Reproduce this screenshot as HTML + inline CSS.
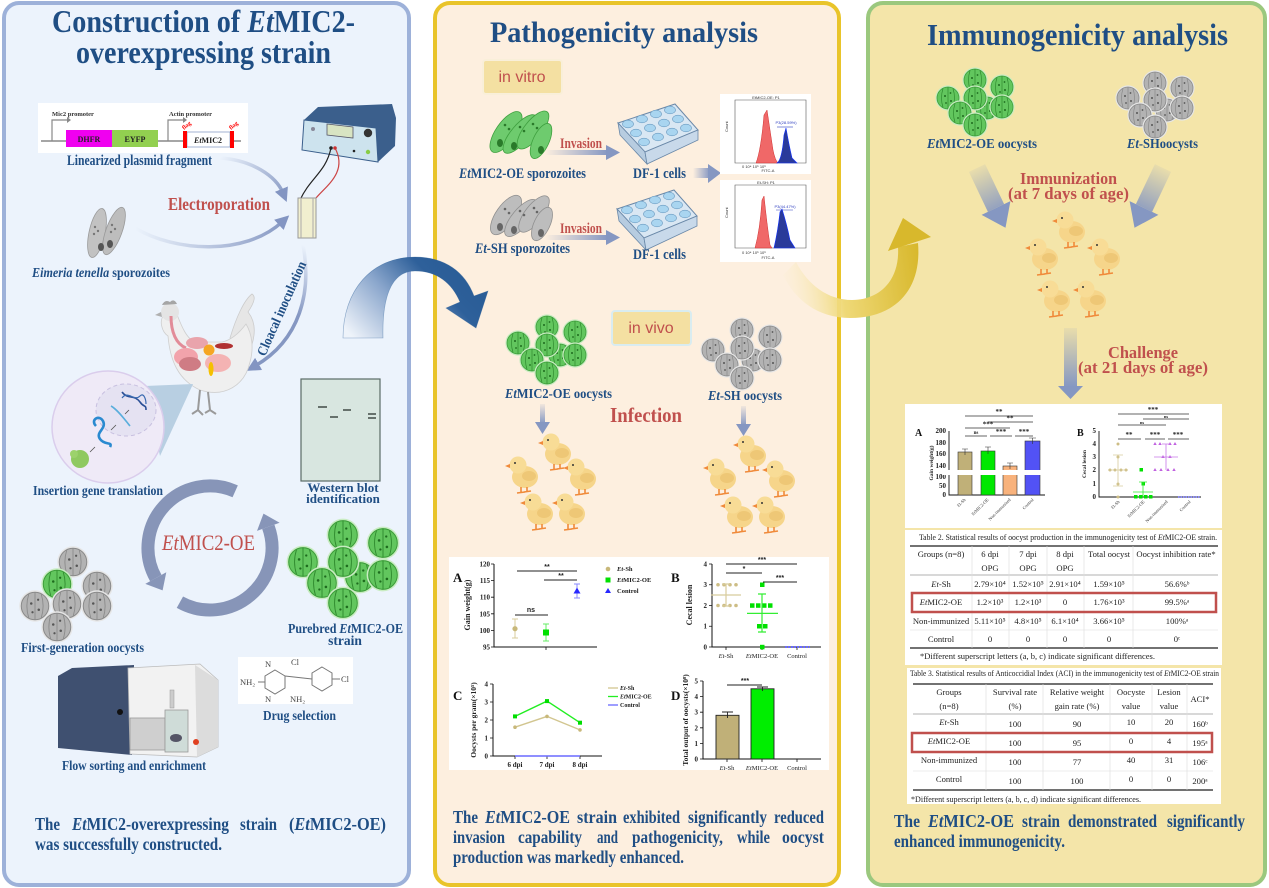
<!DOCTYPE html>
<html><head><meta charset="utf-8">
<style>
html,body{margin:0;padding:0;background:#fff;}
svg{display:block;}
text{font-family:"Liberation Serif",serif;}
.b{font-weight:bold;fill:#1f4e84;}
.r{font-weight:bold;fill:#c0504d;}
.s{font-family:"Liberation Sans",sans-serif;}
.t{font-size:8.6px;fill:#222;}
.tk{font-family:"Liberation Sans",sans-serif;font-weight:bold;font-size:7px;fill:#222;}
.sg{font-family:"Liberation Sans",sans-serif;font-weight:bold;font-size:7px;fill:#222;}
</style></head><body>
<svg width="1269" height="888" viewBox="0 0 1269 888" xmlns="http://www.w3.org/2000/svg">
<defs>
<linearGradient id="gBlue" x1="360" y1="345" x2="450" y2="262" gradientUnits="userSpaceOnUse">
<stop offset="0" stop-color="#eef3fa"/><stop offset="0.45" stop-color="#8aa6cc"/><stop offset="0.8" stop-color="#2e609a"/><stop offset="1" stop-color="#2a5d97"/>
</linearGradient>
<linearGradient id="gYel" x1="785" y1="280" x2="920" y2="260" gradientUnits="userSpaceOnUse">
<stop offset="0" stop-color="#fbeecf" stop-opacity="0.2"/><stop offset="0.4" stop-color="#efd978"/><stop offset="1" stop-color="#d8b82c"/>
</linearGradient>
<linearGradient id="gArrH" x1="0" y1="0" x2="1" y2="0">
<stop offset="0" stop-color="#8597c2" stop-opacity="0"/><stop offset="1" stop-color="#8597c2"/>
</linearGradient>
<linearGradient id="gArrV" x1="0" y1="0" x2="0" y2="1">
<stop offset="0" stop-color="#8597c2" stop-opacity="0.1"/><stop offset="1" stop-color="#8597c2"/>
</linearGradient>
<linearGradient id="gL1" x1="220" y1="158" x2="287" y2="200" gradientUnits="userSpaceOnUse">
<stop offset="0" stop-color="#8597c2" stop-opacity="0"/><stop offset="1" stop-color="#8597c2"/>
</linearGradient>
<linearGradient id="gL2" x1="135" y1="228" x2="287" y2="218" gradientUnits="userSpaceOnUse">
<stop offset="0" stop-color="#8597c2" stop-opacity="0"/><stop offset="1" stop-color="#8597c2"/>
</linearGradient>
<linearGradient id="gL3" x1="303" y1="245" x2="250" y2="368" gradientUnits="userSpaceOnUse">
<stop offset="0" stop-color="#8597c2" stop-opacity="0"/><stop offset="0.5" stop-color="#8597c2"/><stop offset="1" stop-color="#8597c2"/>
</linearGradient>
<marker id="mh" viewBox="0 0 10 10" refX="3" refY="5" markerWidth="4" markerHeight="4" orient="auto"><path d="M0,0 L10,5 L0,10 Z" fill="#8395c2"/></marker>
<g id="og">
<circle r="12.6" fill="#c9ecc2"/>
<circle r="11" fill="#62c65e" stroke="#3d9e3a" stroke-width="0.8"/>
<path d="M-5,-9.5 Q-8,0 -5,9.5 M0,-11 V11 M5,-9.5 Q8,0 5,9.5" stroke="#2f8a2e" stroke-width="0.7" fill="none"/>
<circle cx="-3" cy="-2" r="1" fill="#1e6b1e"/><circle cx="3" cy="3" r="1" fill="#1e6b1e"/><circle cx="-2" cy="5" r="0.9" fill="#1e6b1e"/><circle cx="2.5" cy="-5" r="0.9" fill="#1e6b1e"/>
</g>
<g id="oy">
<circle r="12.6" fill="#e6e6e6"/>
<circle r="11" fill="#b3b3b3" stroke="#8a8a8a" stroke-width="0.8"/>
<path d="M-5,-9.5 Q-8,0 -5,9.5 M0,-11 V11 M5,-9.5 Q8,0 5,9.5" stroke="#8a8a8a" stroke-width="0.7" fill="none"/>
<circle cx="-3" cy="-2" r="1" fill="#555"/><circle cx="3" cy="3" r="1" fill="#555"/><circle cx="-2" cy="5" r="0.9" fill="#555"/><circle cx="2.5" cy="-5" r="0.9" fill="#555"/>
</g>
<g id="ck">
<ellipse cx="3" cy="4" rx="13" ry="11" fill="#f6d58a"/>
<circle cx="-4" cy="-8" r="8.5" fill="#f8dc96"/>
<path d="M-12,-9 L-17,-7 L-12,-5 Z" fill="#f08a3a"/>
<circle cx="-7" cy="-10" r="1" fill="#333"/>
<ellipse cx="7" cy="3" rx="7" ry="5" fill="#eec776"/>
<path d="M-1,14 L-1,19 M-5,20 L3,19 M5,14 L5,18 M2,19 L9,18" stroke="#f08a3a" stroke-width="1.6" fill="none"/>
</g>
<g id="wells">
<path d="M0,0 L57,-19 L80,7 L27,29 Z" fill="#d9e7f3" stroke="#6a88a8" stroke-width="1"/>
<path d="M0,0 L27,29 L29,41 L2,12 Z" fill="#b7cce0" stroke="#6a88a8" stroke-width="0.8"/>
<path d="M27,29 L80,7 L80,17 L29,41 Z" fill="#c8d9ea" stroke="#6a88a8" stroke-width="0.8"/>
</g>
</defs>

<!-- Panels -->
<rect x="4" y="3" width="405" height="882" rx="15" fill="#ecf3fc" stroke="#9db1d9" stroke-width="4"/>
<rect x="435" y="3" width="404" height="882" rx="15" fill="#fdefdf" stroke="#e9c42a" stroke-width="4"/>
<rect x="868" y="3" width="397" height="882" rx="15" fill="#f4e5a9" stroke="#9bc87e" stroke-width="4"/>

<!-- Titles -->
<text x="52" y="32" font-size="32" class="b" textLength="303" lengthAdjust="spacingAndGlyphs">Construction of <tspan font-style="italic">Et</tspan>MIC2-</text>
<text x="76" y="63" font-size="32" class="b" textLength="255" lengthAdjust="spacingAndGlyphs">overexpressing strain</text>
<text x="490" y="42" font-size="30" class="b" textLength="268" lengthAdjust="spacingAndGlyphs">Pathogenicity analysis</text>
<text x="927" y="45" font-size="31" class="b" textLength="301" lengthAdjust="spacingAndGlyphs">Immunogenicity analysis</text>

<!-- ============ LEFT PANEL ============ -->
<!-- plasmid -->
<rect x="38" y="103" width="210" height="50" fill="#fff"/>
<path d="M41,141 H66 M158,141 H183 M234,141 H241" stroke="#888" stroke-width="1.6"/>
<path d="M52,141 V120 H68" stroke="#888" stroke-width="1.2" fill="none"/><path d="M67,117 L71,120 L67,123 Z" fill="#888"/>
<path d="M168,141 V120 H184" stroke="#888" stroke-width="1.2" fill="none"/><path d="M183,117 L187,120 L183,123 Z" fill="#888"/>
<text x="52" y="116" font-size="6.5" font-weight="bold" fill="#333">Mic2  promoter</text>
<text x="169" y="116" font-size="6.5" font-weight="bold" fill="#333">Actin promoter</text>
<rect x="66" y="130" width="46" height="17" fill="#f000f0"/>
<rect x="112" y="130" width="46" height="17" fill="#92d050"/>
<text x="89" y="142" font-size="8" font-weight="bold" text-anchor="middle" fill="#222">DHFR</text>
<text x="135" y="142" font-size="8" font-weight="bold" text-anchor="middle" fill="#222">EYFP</text>
<rect x="187" y="132" width="43" height="15" fill="#fff" stroke="#8da0c8" stroke-width="0.8"/>
<rect x="183" y="131" width="4" height="17" fill="#f00"/><rect x="230" y="131" width="4" height="17" fill="#f00"/>
<text x="208" y="143" font-size="8" font-weight="bold" text-anchor="middle" fill="#222"><tspan font-style="italic">Et</tspan>MIC2</text>
<text transform="translate(184,130) rotate(-40)" font-size="6" fill="#f00" font-weight="bold">flag</text>
<text transform="translate(231,130) rotate(-40)" font-size="6" fill="#f00" font-weight="bold">flag</text>
<text x="67" y="165" font-size="15" class="b" textLength="145" lengthAdjust="spacingAndGlyphs">Linearized plasmid fragment</text>

<!-- left arrows -->
<path d="M220,158 C252,160 276,176 283,193" stroke="url(#gL1)" stroke-width="3.5" fill="none" marker-end="url(#mh)"/>
<path d="M135,228 C175,252 245,256 282,222" stroke="url(#gL2)" stroke-width="3.5" fill="none" marker-end="url(#mh)"/>
<path d="M303,245 C312,292 300,340 255,366" stroke="url(#gL3)" stroke-width="3.5" fill="none" marker-end="url(#mh)"/>
<text x="168" y="210" font-size="18" class="r" textLength="102" lengthAdjust="spacingAndGlyphs">Electroporation</text>

<!-- electroporator -->
<path d="M304,120 L318,107 L392,104 L396,118 L395,146 L378,162 L376,128 Z" fill="#3b5f8c"/>
<path d="M304,120 L376,128 L378,162 L302,150 Z" fill="#cde3ee" stroke="#3b5f8c" stroke-width="1"/>
<path d="M327,124 L353,127 L353,138 L327,135 Z" fill="#d8e4c2" stroke="#556" stroke-width="0.8"/>
<circle cx="368" cy="133" r="4.2" fill="#333"/>
<circle cx="313" cy="129" r="2" fill="#889"/>
<circle cx="354" cy="151" r="1.3" fill="#222"/><circle cx="368" cy="152" r="2.2" fill="#8c4"/>
<path d="M331,148 C326,172 310,178 300,200" stroke="#222" stroke-width="1.2" fill="none"/>
<path d="M335,148 C348,172 326,186 316,198" stroke="#c44" stroke-width="1.2" fill="none"/>
<circle cx="331" cy="148" r="1.8" fill="#222"/><circle cx="335" cy="148" r="1.8" fill="#c33"/>
<!-- cuvette -->
<rect x="298" y="198" width="18" height="40" fill="#f1efcf" stroke="#999" stroke-width="1"/>
<path d="M301,198 V238 M313,198 V238" stroke="#aaa" stroke-width="1"/>

<!-- sporozoites gray -->
<g stroke="#9a9a9a" stroke-width="0.8">
<ellipse cx="97" cy="233" rx="8" ry="25" transform="rotate(12 97 233)" fill="#c2c2c2"/>
<ellipse cx="114" cy="231" rx="8" ry="25" transform="rotate(20 114 231)" fill="#bdbdbd"/>
</g>
<g fill="#777"><circle cx="95" cy="227" r="1.2"/><circle cx="98" cy="231" r="1.2"/><circle cx="94" cy="234" r="1.2"/><circle cx="112" cy="225" r="1.2"/><circle cx="115" cy="229" r="1.2"/><circle cx="111" cy="232" r="1.2"/>
<ellipse cx="101" cy="247" rx="3" ry="4" fill="#555"/><ellipse cx="110" cy="244" rx="3" ry="4" fill="#555"/></g>
<text x="32" y="277" font-size="14" class="b" textLength="138" lengthAdjust="spacingAndGlyphs"><tspan font-style="italic">Eimeria tenella</tspan> sporozoites</text>

<text transform="translate(265,357) rotate(-66)" font-size="14" class="b" textLength="102" lengthAdjust="spacingAndGlyphs">Cloacal inoculation</text>

<!-- hen -->
<path d="M248,312 C256,300 255,296 252,294 C244,300 236,318 230,338 L250,350 C256,335 256,322 248,312 Z" fill="#e6e6e6" stroke="#ccc" stroke-width="0.8"/>
<path d="M165,314 C158,320 162,332 168,336 C170,360 178,380 200,390 C225,398 245,385 250,362 C254,348 252,334 246,324 C240,332 232,340 222,342 L196,342 C186,340 180,322 176,312 Z" fill="#efefef" stroke="#cfcfcf" stroke-width="0.8"/>
<circle cx="170" cy="312" r="9" fill="#e4e4e4"/>
<path d="M162,305 Q165,299 170,302 Q174,298 177,304 Z" fill="#a5a5a5"/>
<path d="M161,312 L155,315 L162,317 Z" fill="#b0b0b0"/>
<path d="M171,316 C171,332 176,344 186,348" stroke="#e28c98" stroke-width="3" fill="none"/>
<ellipse cx="197" cy="343" rx="11" ry="6" fill="#e9a4ac"/>
<ellipse cx="186" cy="357" rx="12" ry="9" fill="#f2a3ab"/>
<ellipse cx="190" cy="364" rx="11" ry="7" fill="#cf7c84"/>
<circle cx="209" cy="350" r="5.5" fill="#f5a623"/>
<ellipse cx="224" cy="346" rx="9" ry="3" fill="#b03030"/>
<ellipse cx="218" cy="363" rx="13" ry="9" fill="#f4b3b3"/>
<ellipse cx="211" cy="369" rx="2.5" ry="7" fill="#f5c000"/>
<path d="M200,390 L198,410 M208,392 L210,410 M192,414 L198,410 L203,415 M205,413 L210,410 L216,414" stroke="#9a9a9a" stroke-width="2" fill="none"/>

<!-- zoom circle -->
<path d="M145,386 L193,384 L160,456 Z" fill="#b8cfe2"/>
<circle cx="108" cy="427" r="56" fill="#efeaf7" stroke="#dacdec" stroke-width="1.5"/>
<ellipse cx="126" cy="410" rx="30" ry="26" fill="#e5e2f2" stroke="#c8c0e0" stroke-width="1" stroke-dasharray="4 3"/>
<path d="M122,392 C128,400 134,394 140,402 C144,408 146,404 146,410" stroke="#2a4f96" stroke-width="1.6" fill="none"/>
<path d="M122,398 C128,390 134,402 140,396 C144,392 146,400 146,404" stroke="#3a6ab0" stroke-width="1.2" fill="none"/>
<path d="M111,406 C118,410 125,420 130,426" stroke="#5aaedc" stroke-width="1.6" fill="none"/>
<path d="M96,426 C90,420 99,414 103,421 C107,429 95,432 100,439 C105,446 113,441 110,447" stroke="#2a8ad0" stroke-width="2.6" fill="none"/>
<circle cx="80" cy="459" r="9" fill="#8fc960"/><circle cx="74" cy="454" r="4" fill="#9cd26c"/>
<path d="M129,410 L125,414 M116,425 L111,430 M95,447 L90,452" stroke="#555" stroke-width="0.8"/>
<text x="33" y="495" font-size="13.5" class="b" textLength="130" lengthAdjust="spacingAndGlyphs">Insertion gene translation</text>

<!-- western blot -->
<rect x="301" y="379" width="79" height="102" fill="#d8e6e0" stroke="#5b6b66" stroke-width="1.2"/>
<path d="M318,407 H327 M330,417 H338 M343,410 H351 M368,414 H376 M368,418 H376" stroke="#404a46" stroke-width="1.6"/>
<text x="343" y="492" font-size="13" class="b" text-anchor="middle">Western blot</text>
<text x="343" y="503" font-size="13" class="b" text-anchor="middle">identification</text>

<!-- cycle -->
<path d="M235.2,491.3 A62,62 0 0 0 155.8,578.1" stroke="#8795b8" stroke-width="13" fill="none"/>
<path d="M162.6,590.4 L166.3,572.3 L145.3,583.9 Z" fill="#8795b8"/>
<path d="M179.9,602.2 A62,62 0 0 0 268.3,526.8" stroke="#8795b8" stroke-width="13" fill="none"/>
<path d="M263.5,513.6 L279.6,522.7 L257.0,530.9 Z" fill="#8795b8"/>
<text x="162" y="550" font-size="22" fill="#c0504d" textLength="93" lengthAdjust="spacingAndGlyphs"><tspan font-style="italic">Et</tspan>MIC2-OE</text>

<!-- first-gen oocysts -->
<use href="#oy" transform="translate(73,562) scale(1.25)"/>
<use href="#og" transform="translate(57,584) scale(1.25)"/>
<use href="#oy" transform="translate(97,586) scale(1.25)"/>
<use href="#oy" transform="translate(35,606) scale(1.25)"/>
<use href="#oy" transform="translate(67,604) scale(1.25)"/>
<use href="#oy" transform="translate(97,606) scale(1.25)"/>
<use href="#oy" transform="translate(57,627) scale(1.25)"/>
<text x="21" y="652" font-size="13.5" class="b" textLength="123" lengthAdjust="spacingAndGlyphs">First-generation oocysts</text>

<!-- purebred oocysts -->
<use href="#og" transform="translate(343,535) scale(1.3)"/>
<use href="#og" transform="translate(383,543) scale(1.3)"/>
<use href="#og" transform="translate(303,562) scale(1.3)"/>
<use href="#og" transform="translate(360,577) scale(1.3)"/>
<use href="#og" transform="translate(343,562) scale(1.3)"/>
<use href="#og" transform="translate(383,575) scale(1.3)"/>
<use href="#og" transform="translate(322,583) scale(1.3)"/>
<use href="#og" transform="translate(343,603) scale(1.3)"/>
<text x="288" y="633" font-size="13.5" class="b" textLength="115" lengthAdjust="spacingAndGlyphs">Purebred <tspan font-style="italic">Et</tspan>MIC2-OE</text>
<text x="345" y="645" font-size="13.5" class="b" text-anchor="middle">strain</text>

<!-- flow cytometer -->
<path d="M58,676 L72,668 L134,665 L132,755 L58,748 Z" fill="#3f5070"/>
<path d="M128,668 L200,664 L218,680 L218,747 L197,757 L130,754 Z" fill="#f2f2f2" stroke="#bbb" stroke-width="0.8"/>
<path d="M195,665 L218,680 L218,747 L197,757 Z" fill="#dcdcdc"/>
<rect x="130" y="718" width="35" height="32" fill="#cfcfcf" stroke="#999" stroke-width="0.8"/>
<rect x="165" y="710" width="23" height="42" fill="#cfdcd8" stroke="#999" stroke-width="0.8"/>
<ellipse cx="176" cy="738" rx="6" ry="4" fill="#556"/>
<rect x="170" y="690" width="4" height="18" fill="#ccc" stroke="#999" stroke-width="0.5"/>
<circle cx="196" cy="742" r="3" fill="#e04020"/>
<circle cx="120" cy="712" r="3" fill="#111"/>
<text x="62" y="770" font-size="13.5" class="b" textLength="144" lengthAdjust="spacingAndGlyphs">Flow sorting and enrichment</text>

<!-- drug -->
<rect x="238" y="657" width="115" height="47" fill="#fff"/>
<g stroke="#777" stroke-width="1" fill="none">
<path d="M275,670 L285,676 L285,688 L275,694 L265,688 L265,676 Z"/>
<path d="M322,667 L332,673 L332,685 L322,691 L312,685 L312,673 Z"/>
<path d="M285,676 L312,679 M258,682 L265,682 M332,679 L340,679"/>
</g>
<g class="s" font-size="8.5" fill="#444">
<text x="265" y="667">N</text><text x="291" y="665">Cl</text><text x="240" y="685">NH₂</text>
<text x="265" y="702">N</text><text x="290" y="702">NH₂</text><text x="341" y="682">Cl</text>
</g>
<text x="263" y="720" font-size="13.5" class="b" textLength="73" lengthAdjust="spacingAndGlyphs">Drug selection</text>

<!-- bottom left text -->
<g font-size="17.5" class="b">
<text x="35" y="830" textLength="25" lengthAdjust="spacingAndGlyphs">The</text>
<text x="72" y="830" textLength="157" lengthAdjust="spacingAndGlyphs"><tspan font-style="italic">Et</tspan>MIC2-overexpressing</text>
<text x="240" y="830" textLength="37" lengthAdjust="spacingAndGlyphs">strain</text>
<text x="289" y="830" textLength="97" lengthAdjust="spacingAndGlyphs">(<tspan font-style="italic">Et</tspan>MIC2-OE)</text>
<text x="35" y="850" textLength="187" lengthAdjust="spacingAndGlyphs">was successfully constructed.</text>
</g>

<!-- ============ MIDDLE PANEL ============ -->
<rect x="483" y="60" width="79" height="34" rx="3" fill="#f4e0a2" stroke="#f9efd9" stroke-width="2"/>
<text x="522" y="82" font-size="16" class="s" fill="#c0504d" text-anchor="middle">in vitro</text>

<!-- green sporozoites -->
<g fill="#6ecb6e" stroke="#3fa03f" stroke-width="0.8">
<ellipse cx="506" cy="132" rx="10" ry="24" transform="rotate(35 506 132)"/>
<ellipse cx="520" cy="134" rx="9" ry="24" transform="rotate(40 520 134)"/>
<ellipse cx="533" cy="130" rx="9" ry="23" transform="rotate(38 533 130)"/>
<ellipse cx="541" cy="141" rx="8" ry="19" transform="rotate(25 541 141)"/>
</g>
<g fill="#2a7a2a"><circle cx="505" cy="125" r="1.3"/><circle cx="509" cy="129" r="1.3"/><circle cx="520" cy="127" r="1.3"/><circle cx="524" cy="131" r="1.3"/><circle cx="533" cy="124" r="1.3"/><circle cx="537" cy="128" r="1.3"/>
<ellipse cx="500" cy="143" rx="3" ry="4"/><ellipse cx="514" cy="146" rx="3" ry="4"/><ellipse cx="541" cy="150" rx="3" ry="4"/></g>
<!-- gray sporozoites -->
<g fill="#bdbdbd" stroke="#8f8f8f" stroke-width="0.8">
<ellipse cx="506" cy="215" rx="10" ry="23" transform="rotate(35 506 215)"/>
<ellipse cx="521" cy="218" rx="9" ry="23" transform="rotate(40 521 218)"/>
<ellipse cx="534" cy="214" rx="9" ry="22" transform="rotate(38 534 214)"/>
<ellipse cx="542" cy="224" rx="8" ry="18" transform="rotate(25 542 224)"/>
</g>
<g fill="#666"><circle cx="505" cy="209" r="1.3"/><circle cx="509" cy="213" r="1.3"/><circle cx="520" cy="211" r="1.3"/><circle cx="524" cy="215" r="1.3"/><circle cx="534" cy="208" r="1.3"/><circle cx="537" cy="212" r="1.3"/>
<ellipse cx="500" cy="227" rx="3" ry="4"/><ellipse cx="514" cy="230" rx="3" ry="4"/><ellipse cx="541" cy="233" rx="3" ry="4"/></g>

<!-- invasion arrows -->
<rect x="545" y="150" width="63" height="5" fill="url(#gArrH)"/>
<path d="M606,145 L620,152.5 L606,160 Z" fill="#8597c2"/>
<rect x="545" y="235" width="63" height="5" fill="url(#gArrH)"/>
<path d="M606,230 L620,237.5 L606,245 Z" fill="#8597c2"/>
<text x="560" y="148" font-size="15" class="r" textLength="42" lengthAdjust="spacingAndGlyphs">Invasion</text>
<text x="560" y="233" font-size="15" class="r" textLength="42" lengthAdjust="spacingAndGlyphs">Invasion</text>
<text x="459" y="178" font-size="15" class="b" textLength="127" lengthAdjust="spacingAndGlyphs"><tspan font-style="italic">Et</tspan>MIC2-OE sporozoites</text>
<text x="475" y="253" font-size="15" class="b" textLength="95" lengthAdjust="spacingAndGlyphs"><tspan font-style="italic">Et</tspan>-SH sporozoites</text>

<!-- well plates -->
<use href="#wells" transform="translate(618,123)"/>
<use href="#wells" transform="translate(617,209)"/>
<g fill="#a9d5f0" stroke="#6a9ac0" stroke-width="0.6">
<ellipse cx="628" cy="124" rx="5.5" ry="3.8"/><ellipse cx="642" cy="119" rx="5.5" ry="3.8"/><ellipse cx="656" cy="114" rx="5.5" ry="3.8"/><ellipse cx="670" cy="110" rx="5.5" ry="3.8"/>
<ellipse cx="636" cy="133" rx="5.5" ry="3.8"/><ellipse cx="650" cy="128" rx="5.5" ry="3.8"/><ellipse cx="664" cy="123" rx="5.5" ry="3.8"/><ellipse cx="678" cy="119" rx="5.5" ry="3.8"/>
<ellipse cx="644" cy="142" rx="5.5" ry="3.8"/><ellipse cx="658" cy="137" rx="5.5" ry="3.8"/><ellipse cx="672" cy="132" rx="5.5" ry="3.8"/><ellipse cx="686" cy="128" rx="5.5" ry="3.8"/>
</g>
<g fill="#a9d5f0" stroke="#6a9ac0" stroke-width="0.6" transform="translate(-1,86)">
<ellipse cx="628" cy="124" rx="5.5" ry="3.8"/><ellipse cx="642" cy="119" rx="5.5" ry="3.8"/><ellipse cx="656" cy="114" rx="5.5" ry="3.8"/><ellipse cx="670" cy="110" rx="5.5" ry="3.8"/>
<ellipse cx="636" cy="133" rx="5.5" ry="3.8"/><ellipse cx="650" cy="128" rx="5.5" ry="3.8"/><ellipse cx="664" cy="123" rx="5.5" ry="3.8"/><ellipse cx="678" cy="119" rx="5.5" ry="3.8"/>
<ellipse cx="644" cy="142" rx="5.5" ry="3.8"/><ellipse cx="658" cy="137" rx="5.5" ry="3.8"/><ellipse cx="672" cy="132" rx="5.5" ry="3.8"/><ellipse cx="686" cy="128" rx="5.5" ry="3.8"/>
</g>
<text x="633" y="178" font-size="15" class="b" textLength="53" lengthAdjust="spacingAndGlyphs">DF-1 cells</text>
<text x="633" y="259" font-size="15" class="b" textLength="53" lengthAdjust="spacingAndGlyphs">DF-1 cells</text>
<!-- thick arrow -->
<rect x="693" y="168" width="17" height="10" fill="url(#gArrH)"/>
<path d="M708,164 L721,173 L708,183 Z" fill="#8597c2"/>

<!-- flow histograms -->
<rect x="720" y="94" width="91" height="80" fill="#fff"/>
<path d="M735,100 V163 H806 V100 Z" stroke="#555" stroke-width="0.6" fill="none"/>
<path d="M756,163 Q761,150 764,115 L767,110 Q770,130 773,150 Q775,160 778,163 Z" fill="#f06868" stroke="#d03030" stroke-width="0.5"/>
<path d="M777,163 Q782,160 784,135 L786,128 Q789,145 792,158 L797,163 Z" fill="#2a3a9a" stroke="#1030ff" stroke-width="0.6"/>
<path d="M777,127 H793" stroke="#3040c0" stroke-width="0.6"/>
<text x="786" y="124" font-size="4" class="s" fill="#3040c0" text-anchor="middle">P3(28.59%)</text>
<text x="766" y="99" font-size="4" class="s" fill="#333" text-anchor="middle">EtMIC2-OE: P1</text>
<text x="768" y="172" font-size="4" class="s" fill="#333" text-anchor="middle">FITC-A</text>
<text x="742" y="168" font-size="4" class="s" fill="#333">0     10⁴    10⁵     10⁶</text>
<text transform="translate(728,132) rotate(-90)" font-size="4" class="s" fill="#333">Count</text>
<rect x="720" y="180" width="91" height="82" fill="#fff"/>
<path d="M735,185 V248 H806 V185 Z" stroke="#555" stroke-width="0.6" fill="none"/>
<path d="M755,248 Q760,230 762,200 L764,196 Q767,225 770,245 L772,248 Z" fill="#f06868" stroke="#d03030" stroke-width="0.5"/>
<path d="M774,248 Q778,230 780,212 L782,209 Q787,225 790,240 L795,248 Z" fill="#2a3a9a" stroke="#1030ff" stroke-width="0.6"/>
<path d="M776,210 H793" stroke="#3040c0" stroke-width="0.6"/>
<text x="785" y="208" font-size="4" class="s" fill="#3040c0" text-anchor="middle">P3(44.47%)</text>
<text x="766" y="184" font-size="4" class="s" fill="#333" text-anchor="middle">Et-SH: P1</text>
<text x="768" y="259" font-size="4" class="s" fill="#333" text-anchor="middle">FITC-A</text>
<text x="742" y="254" font-size="4" class="s" fill="#333">0     10⁴    10⁵     10⁶</text>
<text transform="translate(728,218) rotate(-90)" font-size="4" class="s" fill="#333">Count</text>

<!-- blue curved arrow -->
<path d="M343,338 C343,290 372,257 415,257 C445,257 465,272 474,296 L488,291 L476,328 L446,308 L460,302 C452,283 437,271 415,271 C390,271 382,300 383,338 Z" fill="url(#gBlue)" stroke="#2a5d97" stroke-width="0.6" stroke-opacity="0.5"/>
<!-- yellow curved arrow -->
<path d="M918,243 C922,290 895,318 850,318 C818,318 795,300 783,275 L796,262 C808,285 828,300 852,300 C880,300 900,280 898,247 Z" fill="url(#gYel)"/>
<path d="M903,218 L931,237 L888,251 Z" fill="#d8b82c"/>

<!-- in vivo -->
<rect x="612" y="311" width="79" height="34" rx="3" fill="#f4e0a2" stroke="#d9ecf0" stroke-width="2"/>
<text x="651" y="333" font-size="16" class="s" fill="#c0504d" text-anchor="middle">in vivo</text>

<use href="#og" transform="translate(547,327)"/>
<use href="#og" transform="translate(575,332)"/>
<use href="#og" transform="translate(518,343)"/>
<use href="#og" transform="translate(560,355)"/>
<use href="#og" transform="translate(547,345)"/>
<use href="#og" transform="translate(575,355)"/>
<use href="#og" transform="translate(532,360)"/>
<use href="#og" transform="translate(547,373)"/>
<use href="#oy" transform="translate(742,330)"/>
<use href="#oy" transform="translate(770,337)"/>
<use href="#oy" transform="translate(713,350)"/>
<use href="#oy" transform="translate(753,360)"/>
<use href="#oy" transform="translate(742,348)"/>
<use href="#oy" transform="translate(770,360)"/>
<use href="#oy" transform="translate(727,365)"/>
<use href="#oy" transform="translate(742,378)"/>
<text x="505" y="398" font-size="14" class="b" textLength="107" lengthAdjust="spacingAndGlyphs"><tspan font-style="italic">Et</tspan>MIC2-OE oocysts</text>
<text x="708" y="400" font-size="14" class="b" textLength="74" lengthAdjust="spacingAndGlyphs"><tspan font-style="italic">Et</tspan>-SH oocysts</text>
<text x="610" y="422" font-size="21" class="r" textLength="72" lengthAdjust="spacingAndGlyphs">Infection</text>
<rect x="540" y="404" width="5" height="20" fill="url(#gArrV)"/><path d="M535,422 L550,422 L542.5,434 Z" fill="#8597c2"/>
<rect x="741" y="406" width="5" height="20" fill="url(#gArrV)"/><path d="M736,424 L751,424 L743.5,436 Z" fill="#8597c2"/>

<use href="#ck" transform="translate(555,450)"/>
<use href="#ck" transform="translate(522,473)"/>
<use href="#ck" transform="translate(580,475)"/>
<use href="#ck" transform="translate(537,510)"/>
<use href="#ck" transform="translate(569,510)"/>
<use href="#ck" transform="translate(750,452)"/>
<use href="#ck" transform="translate(720,475)"/>
<use href="#ck" transform="translate(779,477)"/>
<use href="#ck" transform="translate(737,513)"/>
<use href="#ck" transform="translate(769,513)"/>

<!-- middle charts -->
<rect x="449" y="557" width="380" height="213" fill="#fff"/>
<!-- A -->
<text x="453" y="582" font-size="13" font-weight="bold" fill="#111">A</text>
<path d="M494,564 V647 H597" stroke="#111" stroke-width="1" fill="none"/>
<path d="M491,564 H494 M491,580.6 H494 M491,597.2 H494 M491,613.8 H494 M491,630.4 H494 M491,647 H494 M546,647 V650" stroke="#111" stroke-width="0.8"/>
<g class="tk" text-anchor="end"><text x="490" y="566.5">120</text><text x="490" y="583">115</text><text x="490" y="599.7">110</text><text x="490" y="616.3">105</text><text x="490" y="632.9">100</text><text x="490" y="649.5">95</text></g>
<text transform="translate(470,605) rotate(-90)" font-size="8" font-weight="bold" text-anchor="middle" fill="#222">Gain weight(g)</text>
<path d="M515,619 V638 M512,619 H518 M512,638 H518" stroke="#d8cc9c" stroke-width="1"/>
<circle cx="515" cy="628.7" r="2.6" fill="#c8b87a"/>
<path d="M546,624 V641 M543,624 H549 M543,641 H549" stroke="#66ee66" stroke-width="1"/>
<rect x="543" y="629.5" width="6" height="6" fill="#00e000"/>
<path d="M577,584 V598 M574,584 H580 M574,598 H580" stroke="#8888ff" stroke-width="1"/>
<path d="M577,587.5 L580.5,593.5 L573.5,593.5 Z" fill="#2828ff"/>
<path d="M517,571 H577 M544,580 H577 M515,615 H548" stroke="#222" stroke-width="1"/>
<text x="547" y="569" class="sg" text-anchor="middle">**</text>
<text x="561" y="578" class="sg" text-anchor="middle">**</text>
<text x="531" y="612" class="sg" text-anchor="middle" font-size="6">ns</text>
<circle cx="608" cy="569" r="2.3" fill="#c8b87a"/><rect x="605.5" y="577.5" width="5" height="5" fill="#00e000"/><path d="M608,588 L611,593 L605,593 Z" fill="#2828ff"/>
<g font-size="6.5" font-weight="bold" fill="#222"><text x="617" y="571"><tspan font-style="italic">Et</tspan>-Sh</text><text x="617" y="582"><tspan font-style="italic">Et</tspan>MIC2-OE</text><text x="617" y="593">Control</text></g>

<!-- B -->
<text x="671" y="582" font-size="13" font-weight="bold" fill="#111">B</text>
<path d="M712,564 V647 H821" stroke="#111" stroke-width="1" fill="none"/>
<path d="M709,564 H712 M709,584.75 H712 M709,605.5 H712 M709,626.25 H712 M709,647 H712 M726,647 V650 M762,647 V650 M797,647 V650" stroke="#111" stroke-width="0.8"/>
<g class="tk" text-anchor="end"><text x="707" y="566.5">4</text><text x="707" y="587.2">3</text><text x="707" y="608">2</text><text x="707" y="628.7">1</text><text x="707" y="649.5">0</text></g>
<text transform="translate(692,605) rotate(-90)" font-size="8" font-weight="bold" text-anchor="middle" fill="#222">Cecal lesion</text>
<g fill="#cdbd85"><circle cx="718" cy="584.75" r="1.8"/><circle cx="724" cy="584.75" r="1.8"/><circle cx="730" cy="584.75" r="1.8"/><circle cx="736" cy="584.75" r="1.8"/>
<circle cx="718" cy="605.5" r="1.8"/><circle cx="724" cy="605.5" r="1.8"/><circle cx="730" cy="605.5" r="1.8"/><circle cx="736" cy="605.5" r="1.8"/></g>
<path d="M711,595 H741 M726,584 V606 M722,584 H730 M722,606 H730" stroke="#d8cc9c" stroke-width="1.2"/>
<g fill="#00e000"><rect x="760" y="582.5" width="4.5" height="4.5"/><rect x="750" y="603.3" width="4.5" height="4.5"/><rect x="756" y="603.3" width="4.5" height="4.5"/><rect x="762" y="603.3" width="4.5" height="4.5"/><rect x="768" y="603.3" width="4.5" height="4.5"/><rect x="757" y="624" width="4.5" height="4.5"/><rect x="763" y="624" width="4.5" height="4.5"/><rect x="760" y="644.8" width="4.5" height="4.5"/></g>
<path d="M747,613.4 H778 M762,594 V632 M758,594 H766 M758,632 H766" stroke="#33ee33" stroke-width="1.2"/>
<path d="M785,647 H810" stroke="#6a6aff" stroke-width="2" stroke-dasharray="2 1"/>
<path d="M726,564 H797 M726,573 H762 M763,582 H797" stroke="#222" stroke-width="1"/>
<text x="762" y="562" class="sg" text-anchor="middle">***</text>
<text x="744" y="571" class="sg" text-anchor="middle">*</text>
<text x="780" y="580" class="sg" text-anchor="middle">***</text>
<g font-size="6.5" fill="#222" text-anchor="middle"><text x="726" y="658"><tspan font-style="italic">Et</tspan>-Sh</text><text x="762" y="658"><tspan font-style="italic">Et</tspan>MIC2-OE</text><text x="797" y="658">Control</text></g>

<!-- C -->
<text x="453" y="700" font-size="13" font-weight="bold" fill="#111">C</text>
<path d="M493,684 V756 H602" stroke="#111" stroke-width="1" fill="none"/>
<path d="M490,684 H493 M490,702 H493 M490,720 H493 M490,738 H493 M490,756 H493 M515,756 V759 M547,756 V759 M580,756 V759" stroke="#111" stroke-width="0.8"/>
<g class="tk" text-anchor="end"><text x="488" y="686.5">4</text><text x="488" y="704.5">3</text><text x="488" y="722.5">2</text><text x="488" y="740.5">1</text><text x="488" y="758.5">0</text></g>
<g class="tk" text-anchor="middle"><text x="515" y="767">6 dpi</text><text x="547" y="767">7 dpi</text><text x="580" y="767">8 dpi</text></g>
<text transform="translate(476,720) rotate(-90)" font-size="7.5" font-weight="bold" text-anchor="middle" fill="#222">Oocysts per gram(×10⁵)</text>
<polyline points="515,716.4 547,701.1 580,722.7" stroke="#22ee22" stroke-width="1.4" fill="none"/>
<polyline points="515,727.2 547,716.4 580,729.9" stroke="#d2c690" stroke-width="1.4" fill="none"/>
<path d="M515,756 H580" stroke="#6a6aff" stroke-width="1.4"/>
<g fill="#00dd00"><rect x="513" y="714.4" width="4" height="4"/><rect x="545" y="699.1" width="4" height="4"/><rect x="578" y="720.7" width="4" height="4"/></g>
<g fill="#c8b87a"><circle cx="515" cy="727.2" r="1.8"/><circle cx="547" cy="716.4" r="1.8"/><circle cx="580" cy="729.9" r="1.8"/></g>
<path d="M608,688 H618" stroke="#d2c690" stroke-width="1.3"/><path d="M608,696.5 H618" stroke="#22ee22" stroke-width="1.3"/><path d="M608,705 H618" stroke="#6a6aff" stroke-width="1.3"/>
<g font-size="6" font-weight="bold" fill="#222"><text x="620" y="690"><tspan font-style="italic">Et</tspan>-Sh</text><text x="620" y="698.5"><tspan font-style="italic">Et</tspan>MIC2-OE</text><text x="620" y="707">Control</text></g>

<!-- D -->
<text x="671" y="700" font-size="13" font-weight="bold" fill="#111">D</text>
<path d="M703,681 V759 H821" stroke="#111" stroke-width="1" fill="none"/>
<path d="M700,681 H703 M700,696.6 H703 M700,712.2 H703 M700,727.8 H703 M700,743.4 H703 M700,759 H703 M727,759 V762 M762,759 V762 M797,759 V762" stroke="#111" stroke-width="0.8"/>
<g class="tk" text-anchor="end"><text x="698" y="683.5">5</text><text x="698" y="699">4</text><text x="698" y="714.7">3</text><text x="698" y="730.3">2</text><text x="698" y="745.9">1</text><text x="698" y="761.5">0</text></g>
<text transform="translate(688,720) rotate(-90)" font-size="7.5" font-weight="bold" text-anchor="middle" fill="#222">Total output of oocysts(×10⁸)</text>
<rect x="716" y="715.3" width="23" height="43.7" fill="#c0b078" stroke="#222" stroke-width="0.9"/>
<path d="M727.5,712 V718 M722,712 H733" stroke="#222" stroke-width="0.9"/>
<rect x="751" y="688.8" width="23" height="70.2" fill="#00ee00" stroke="#222" stroke-width="0.9"/>
<path d="M762.5,687 V691 M757,687 H768" stroke="#222" stroke-width="0.9"/>
<path d="M727,685 H762" stroke="#222" stroke-width="1"/>
<text x="745" y="683" class="sg" text-anchor="middle">***</text>
<g font-size="6.5" fill="#222" text-anchor="middle"><text x="727" y="770"><tspan font-style="italic">Et</tspan>-Sh</text><text x="762" y="770"><tspan font-style="italic">Et</tspan>MIC2-OE</text><text x="797" y="770">Control</text></g>

<!-- middle bottom text -->
<g font-size="17.5" class="b">
<text x="453" y="823" textLength="25" lengthAdjust="spacingAndGlyphs">The</text>
<text x="485" y="823" textLength="85" lengthAdjust="spacingAndGlyphs"><tspan font-style="italic">Et</tspan>MIC2-OE</text>
<text x="577" y="823" textLength="40" lengthAdjust="spacingAndGlyphs">strain</text>
<text x="623" y="823" textLength="57" lengthAdjust="spacingAndGlyphs">exhibited</text>
<text x="688" y="823" textLength="79" lengthAdjust="spacingAndGlyphs">significantly</text>
<text x="774" y="823" textLength="50" lengthAdjust="spacingAndGlyphs">reduced</text>
<text x="453" y="843" textLength="52" lengthAdjust="spacingAndGlyphs">invasion</text>
<text x="518" y="843" textLength="64" lengthAdjust="spacingAndGlyphs">capability</text>
<text x="597" y="843" textLength="21" lengthAdjust="spacingAndGlyphs">and</text>
<text x="632" y="843" textLength="91" lengthAdjust="spacingAndGlyphs">pathogenicity,</text>
<text x="737" y="843" textLength="33" lengthAdjust="spacingAndGlyphs">while</text>
<text x="782" y="843" textLength="42" lengthAdjust="spacingAndGlyphs">oocyst</text>
<text x="453" y="863" textLength="231" lengthAdjust="spacingAndGlyphs">production was markedly enhanced.</text>
</g>

<!-- ============ RIGHT PANEL ============ -->
<use href="#og" transform="translate(975,80)"/>
<use href="#og" transform="translate(1002,87)"/>
<use href="#og" transform="translate(948,98)"/>
<use href="#og" transform="translate(987,108)"/>
<use href="#og" transform="translate(975,98)"/>
<use href="#og" transform="translate(1002,107)"/>
<use href="#og" transform="translate(960,113)"/>
<use href="#og" transform="translate(975,125)"/>
<use href="#oy" transform="translate(1155,83)"/>
<use href="#oy" transform="translate(1182,88)"/>
<use href="#oy" transform="translate(1128,98)"/>
<use href="#oy" transform="translate(1167,110)"/>
<use href="#oy" transform="translate(1155,100)"/>
<use href="#oy" transform="translate(1182,108)"/>
<use href="#oy" transform="translate(1140,115)"/>
<use href="#oy" transform="translate(1155,127)"/>
<text x="927" y="148" font-size="14" class="b" textLength="110" lengthAdjust="spacingAndGlyphs"><tspan font-style="italic">Et</tspan>MIC2-OE oocysts</text>
<text x="1127" y="148" font-size="14" class="b" textLength="71" lengthAdjust="spacingAndGlyphs"><tspan font-style="italic">Et</tspan>-SHoocysts</text>

<linearGradient id="gD1" x1="977" y1="168" x2="1000" y2="215" gradientUnits="userSpaceOnUse"><stop offset="0" stop-color="#8597c2" stop-opacity="0.1"/><stop offset="1" stop-color="#8597c2"/></linearGradient>
<linearGradient id="gD2" x1="1163" y1="168" x2="1140" y2="215" gradientUnits="userSpaceOnUse"><stop offset="0" stop-color="#8597c2" stop-opacity="0.1"/><stop offset="1" stop-color="#8597c2"/></linearGradient>
<path d="M985.1,164.1 L1004.1,204.1 L987.9,211.9 L968.9,171.9 Z" fill="url(#gD1)"/>
<path d="M1010.4,201.1 L1005.5,227.8 L981.6,214.9 Z" fill="#8597c2"/>
<path d="M1154.9,164.1 L1135.9,204.1 L1152.1,211.9 L1171.1,171.9 Z" fill="url(#gD2)"/>
<path d="M1158.4,214.9 L1134.5,227.8 L1129.6,201.1 Z" fill="#8597c2"/>

<text x="1020" y="184" font-size="16.5" class="r" textLength="97" lengthAdjust="spacingAndGlyphs">Immunization</text>
<text x="1008" y="199" font-size="16.5" class="r" textLength="121" lengthAdjust="spacingAndGlyphs">(at 7 days of age)</text>

<use href="#ck" transform="translate(1069,228)"/>
<use href="#ck" transform="translate(1042,255)"/>
<use href="#ck" transform="translate(1104,255)"/>
<use href="#ck" transform="translate(1054,297)"/>
<use href="#ck" transform="translate(1090,297)"/>

<rect x="1064" y="328" width="13" height="59" fill="url(#gArrV)"/>
<path d="M1058,386 L1083,386 L1070.5,399 Z" fill="#8597c2"/>
<text x="1108" y="358" font-size="16.5" class="r" textLength="70" lengthAdjust="spacingAndGlyphs">Challenge</text>
<text x="1078" y="373" font-size="16.5" class="r" textLength="130" lengthAdjust="spacingAndGlyphs">(at 21 days of age)</text>

<!-- right charts -->
<rect x="905" y="404" width="317" height="124" fill="#fff"/>
<text x="915" y="436" font-size="10" font-weight="bold" fill="#111">A</text>
<path d="M949,431 V495 H1045" stroke="#111" stroke-width="0.9" fill="none"/>
<g class="tk" font-size="5" text-anchor="end"><text x="946" y="433">200</text><text x="946" y="445">180</text><text x="946" y="456">160</text><text x="946" y="468">140</text><text x="946" y="479">100</text><text x="946" y="488">50</text><text x="946" y="497">0</text></g>
<text transform="translate(933,463) rotate(-90)" font-size="5.5" font-weight="bold" text-anchor="middle" fill="#222">Gain weight(g)</text>
<rect x="958" y="452" width="14" height="43" fill="#c0b078" stroke="#333" stroke-width="0.6"/>
<rect x="981" y="451" width="14" height="44" fill="#00e800" stroke="#333" stroke-width="0.6"/>
<rect x="1003" y="466" width="14" height="29" fill="#f8b27c" stroke="#333" stroke-width="0.6"/>
<rect x="1025" y="441" width="15" height="54" fill="#5252f5" stroke="#333" stroke-width="0.6"/>
<path d="M965,449 V455 M962,449 H968 M988,447 V454 M985,447 H991 M1010,463 V469 M1007,463 H1013 M1032.5,438 V444 M1029,438 H1036" stroke="#333" stroke-width="0.6"/>
<rect x="943" y="470" width="102" height="5" fill="#fff"/>
<path d="M965,416 H1033 M988,422 H1033 M965,428 H1010 M965,436 H987 M990,436 H1012 M1015,436 H1033" stroke="#333" stroke-width="0.8"/>
<g class="sg" font-size="6" text-anchor="middle"><text x="999" y="414">**</text><text x="1010" y="420.5">**</text><text x="988" y="426.5">***</text><text x="976" y="434" font-size="5">ns</text><text x="1001" y="434">***</text><text x="1024" y="434">***</text></g>
<g font-size="4.5" fill="#333" text-anchor="end">
<text transform="translate(966,500) rotate(-45)">Et-Sh</text>
<text transform="translate(989,500) rotate(-45)">EtMIC2-OE</text>
<text transform="translate(1011,500) rotate(-45)">Non-immunized</text>
<text transform="translate(1034,500) rotate(-45)">Control</text>
</g>

<text x="1077" y="436" font-size="10" font-weight="bold" fill="#111">B</text>
<path d="M1099,431 V497 H1201" stroke="#111" stroke-width="0.9" fill="none"/>
<g class="tk" font-size="5" text-anchor="end"><text x="1096" y="433">5</text><text x="1096" y="446">4</text><text x="1096" y="459">3</text><text x="1096" y="472">2</text><text x="1096" y="486">1</text><text x="1096" y="499">0</text></g>
<text transform="translate(1086,464) rotate(-90)" font-size="5.5" font-weight="bold" text-anchor="middle" fill="#222">Cecal lesion</text>
<g fill="#cdbd85"><circle cx="1118" cy="444" r="1.5"/><circle cx="1118" cy="457" r="1.5"/><circle cx="1110" cy="470" r="1.5"/><circle cx="1115" cy="470" r="1.5"/><circle cx="1121" cy="470" r="1.5"/><circle cx="1126" cy="470" r="1.5"/><circle cx="1118" cy="484" r="1.5"/><circle cx="1118" cy="497" r="1.5"/></g>
<path d="M1108,470 H1128 M1118,455 V486 M1113,455 H1123 M1113,486 H1123" stroke="#d8cc9c" stroke-width="0.8"/>
<g fill="#00e000"><rect x="1139.5" y="468" width="3.5" height="3.5"/><rect x="1141.5" y="482" width="3.5" height="3.5"/><rect x="1134" y="495" width="3.5" height="3.5"/><rect x="1139" y="495" width="3.5" height="3.5"/><rect x="1144" y="495" width="3.5" height="3.5"/><rect x="1149" y="495" width="3.5" height="3.5"/></g>
<path d="M1133,492 H1153 M1143,482 V497 M1139,482 H1147" stroke="#33ee33" stroke-width="0.8"/>
<g fill="#c060e0"><path d="M1155,442 l1.7,3 h-3.4z"/><path d="M1160,442 l1.7,3 h-3.4z"/><path d="M1170,442 l1.7,3 h-3.4z"/><path d="M1175,442 l1.7,3 h-3.4z"/><path d="M1163,455 l1.7,3 h-3.4z"/><path d="M1170,455 l1.7,3 h-3.4z"/><path d="M1155,468 l1.7,3 h-3.4z"/><path d="M1161,468 l1.7,3 h-3.4z"/><path d="M1168,468 l1.7,3 h-3.4z"/><path d="M1174,468 l1.7,3 h-3.4z"/></g>
<path d="M1154,457 H1178 M1166,444 V470 M1162,444 H1170" stroke="#c878e8" stroke-width="0.8"/>
<path d="M1178,497 H1200" stroke="#6a6aff" stroke-width="1.5" stroke-dasharray="1.5 1"/>
<path d="M1118,414 H1189 M1143,419 H1189 M1118,425 H1166 M1118,439 H1141 M1145,439 H1165 M1168,439 H1189" stroke="#333" stroke-width="0.8"/>
<g class="sg" font-size="6" text-anchor="middle"><text x="1153" y="412">***</text><text x="1166" y="418" font-size="4.5">ns</text><text x="1142" y="424" font-size="4.5">ns</text><text x="1129" y="437">**</text><text x="1155" y="437">***</text><text x="1178" y="437">***</text></g>
<g font-size="4.5" fill="#333" text-anchor="end">
<text transform="translate(1120,502) rotate(-45)">Et-Sh</text>
<text transform="translate(1145,502) rotate(-45)">EtMIC2-OE</text>
<text transform="translate(1168,502) rotate(-45)">Non-immunized</text>
<text transform="translate(1191,502) rotate(-45)">Control</text>
</g>

<!-- Table 2 -->
<rect x="905" y="530" width="317" height="135" fill="#fff"/>
<text x="919" y="540" class="t" textLength="298" lengthAdjust="spacingAndGlyphs">Table 2. Statistical results of oocyst production in the immunogenicity test of <tspan font-style="italic">Et</tspan>MIC2-OE strain.</text>
<path d="M910,546 H1218 M910,648 H1218" stroke="#444" stroke-width="1.5"/>
<path d="M910,575 H1218" stroke="#999" stroke-width="0.8"/>
<path d="M910,593 H1218 M910,612 H1218 M910,630 H1218" stroke="#ddd" stroke-width="0.6"/>
<path d="M972,546 V648 M1009,546 V648 M1047,546 V648 M1084,546 V648 M1133,546 V648" stroke="#ddd" stroke-width="0.6"/>
<g class="t" text-anchor="middle">
<text x="941" y="557">Groups (n=8)</text><text x="990" y="557">6 dpi</text><text x="1028" y="557">7 dpi</text><text x="1065" y="557">8 dpi</text><text x="1109" y="557">Total oocyst</text><text x="1176" y="557">Oocyst inhibition rate*</text>
<text x="990" y="571">OPG</text><text x="1028" y="571">OPG</text><text x="1065" y="571">OPG</text>
<text x="941" y="587"><tspan font-style="italic">Et</tspan>-Sh</text><text x="990" y="587">2.79×10⁴</text><text x="1028" y="587">1.52×10⁵</text><text x="1065" y="587">2.91×10⁴</text><text x="1109" y="587">1.59×10⁵</text><text x="1177" y="587">56.6%ᵇ</text>
<text x="941" y="605"><tspan font-style="italic">Et</tspan>MIC2-OE</text><text x="990" y="605">1.2×10³</text><text x="1028" y="605">1.2×10³</text><text x="1065" y="605">0</text><text x="1109" y="605">1.76×10³</text><text x="1177" y="605">99.5%ᵃ</text>
<text x="941" y="624">Non-immunized</text><text x="990" y="624">5.11×10⁵</text><text x="1028" y="624">4.8×10⁵</text><text x="1065" y="624">6.1×10⁴</text><text x="1109" y="624">3.66×10⁵</text><text x="1177" y="624">100%ᵃ</text>
<text x="941" y="642">Control</text><text x="990" y="642">0</text><text x="1028" y="642">0</text><text x="1065" y="642">0</text><text x="1109" y="642">0</text><text x="1177" y="642">0ᶜ</text>
</g>
<rect x="912" y="593" width="304" height="19" fill="none" stroke="#c0504d" stroke-width="2.5"/>
<text x="920" y="659" class="t" font-size="8" textLength="235" lengthAdjust="spacingAndGlyphs">*Different superscript letters (a, b, c) indicate significant differences.</text>

<!-- Table 3 -->
<rect x="907" y="668" width="314" height="136" fill="#fff"/>
<text x="910" y="676" class="t" font-size="8" textLength="309" lengthAdjust="spacingAndGlyphs">Table 3.   Statistical results of Anticoccidial Index (ACI) in the immunogenicity test of <tspan font-style="italic">Et</tspan>MIC2-OE strain</text>
<path d="M913,684 H1213 M913,790 H1213" stroke="#444" stroke-width="1.5"/>
<path d="M913,714 H1213" stroke="#999" stroke-width="0.8"/>
<path d="M913,733 H1213 M913,752 H1213 M913,771 H1213" stroke="#ddd" stroke-width="0.6"/>
<path d="M986,684 V790 M1043,684 V790 M1110,684 V790 M1152,684 V790 M1187,684 V790" stroke="#ddd" stroke-width="0.6"/>
<g class="t" text-anchor="middle">
<text x="949" y="695">Groups</text><text x="949" y="709">(n=8)</text>
<text x="1015" y="695">Survival rate</text><text x="1015" y="709">(%)</text>
<text x="1077" y="695">Relative weight</text><text x="1077" y="709">gain rate (%)</text>
<text x="1131" y="695">Oocyste</text><text x="1131" y="709">value</text>
<text x="1169" y="695">Lesion</text><text x="1169" y="709">value</text>
<text x="1200" y="702">ACI*</text>
<text x="949" y="725"><tspan font-style="italic">Et</tspan>-Sh</text><text x="1015" y="727">100</text><text x="1077" y="727">90</text><text x="1131" y="725">10</text><text x="1169" y="725">20</text><text x="1200" y="727">160ᵇ</text>
<text x="949" y="744"><tspan font-style="italic">Et</tspan>MIC2-OE</text><text x="1015" y="746">100</text><text x="1077" y="746">95</text><text x="1131" y="744">0</text><text x="1169" y="744">4</text><text x="1200" y="746">195ᵃ</text>
<text x="949" y="763">Non-immunized</text><text x="1015" y="765">100</text><text x="1077" y="765">77</text><text x="1131" y="763">40</text><text x="1169" y="763">31</text><text x="1200" y="765">106ᶜ</text>
<text x="949" y="782">Control</text><text x="1015" y="784">100</text><text x="1077" y="784">100</text><text x="1131" y="782">0</text><text x="1169" y="782">0</text><text x="1200" y="784">200ᵃ</text>
</g>
<rect x="912" y="733" width="300" height="19" fill="none" stroke="#c0504d" stroke-width="2.5"/>
<text x="911" y="802" class="t" font-size="8" textLength="230" lengthAdjust="spacingAndGlyphs">*Different superscript letters (a, b, c, d) indicate significant differences.</text>

<!-- right bottom text -->
<g font-size="17.5" class="b">
<text x="894" y="827" textLength="26" lengthAdjust="spacingAndGlyphs">The</text>
<text x="928" y="827" textLength="86" lengthAdjust="spacingAndGlyphs"><tspan font-style="italic">Et</tspan>MIC2-OE</text>
<text x="1022" y="827" textLength="38" lengthAdjust="spacingAndGlyphs">strain</text>
<text x="1068" y="827" textLength="89" lengthAdjust="spacingAndGlyphs">demonstrated</text>
<text x="1167" y="827" textLength="78" lengthAdjust="spacingAndGlyphs">significantly</text>
<text x="894" y="847" textLength="171" lengthAdjust="spacingAndGlyphs">enhanced immunogenicity.</text>
</g>
</svg>
</body></html>
